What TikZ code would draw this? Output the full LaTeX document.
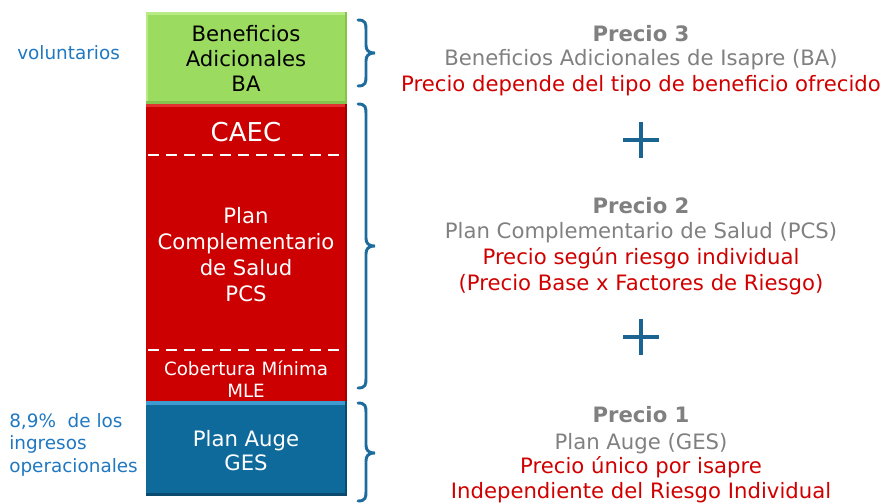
\documentclass[tikz,border=0pt]{standalone}
\usepackage{fontspec}
\setmainfont{DejaVu Sans}
\definecolor{pgray}{HTML}{808080}
\definecolor{pred}{HTML}{D00000}
\definecolor{lblue}{HTML}{1F78C1}
\definecolor{brblue}{HTML}{1E6B9E}
\definecolor{plblue}{HTML}{1A6491}
\definecolor{bagreen}{HTML}{9BDB5F}
\definecolor{bagreenL}{HTML}{B8EA86}
\definecolor{bagreenD}{HTML}{86C24E}
\definecolor{pcsred}{HTML}{CC0000}
\definecolor{pcsredL}{HTML}{E03030}
\definecolor{pcsredD}{HTML}{A00000}
\definecolor{gesblue}{HTML}{0F6A9C}
\definecolor{gesblueL}{HTML}{3F9AD0}
\definecolor{gesblueD}{HTML}{0A4A6E}
\newcommand{\drawbrace}[3]{%
  \draw[bracestyle] (358,#1) .. controls (366,#1) and (366,#1+4) .. (366,#1+10)
    -- (366,#2-8) .. controls (366,#2-3) and (368,#2) .. (375,#2)
    .. controls (368,#2) and (366,#2+3) .. (366,#2+8)
    -- (366,#3-10) .. controls (366,#3-4) and (366,#3) .. (358,#3);}
\tikzset{
  bracestyle/.style={draw=brblue, line width=2.2pt, line cap=round},
  rtxt/.style={anchor=base, inner sep=0pt, font=\fontsize{15.9}{18}\selectfont},
  ptitle/.style={rtxt, text=pgray, font=\fontsize{15.9}{18}\selectfont\bfseries},
  pname/.style={rtxt, text=pgray},
  pdesc/.style={rtxt, text=pred},
  ctxt/.style={anchor=base, inner sep=0pt, font=\fontsize{15.9}{18}\selectfont},
  ltxt/.style={anchor=base west, inner sep=0pt, text=lblue, font=\fontsize{13.8}{16}\selectfont},
  plussign/.style={draw=plblue, line width=3pt},
  dashline/.style={draw=white, line width=2pt, dash pattern=on 8pt off 5.5pt}
}
\begin{document}
\begin{tikzpicture}[x=0.75pt, y=-0.75pt]
\useasboundingbox (0,0) rectangle (884,503);
% ---- column blocks ----
% green BA
\fill[bagreen] (146,12) rectangle (347,104);
\fill[bagreenL] (146,12) rectangle (347,15);
\fill[bagreenL] (146,12) rectangle (148,104);
\fill[bagreenD] (345,12) rectangle (347,104);
\fill[bagreenD] (146,101) rectangle (347,104);
% red PCS
\fill[pcsred] (146,104) rectangle (347,402);
\fill[pcsredL] (146,104) rectangle (347,107);
\fill[pcsredD] (345,104) rectangle (347,402);
% blue GES
\fill[gesblue] (146,401) rectangle (347,496);
\fill[gesblueL] (146,401) rectangle (347,405);
\fill[gesblueD] (345,401) rectangle (347,496);
\fill[gesblueD] (146,493) rectangle (347,496);
% dashed separators
\draw[dashline] (148,155) -- (345,155);
\draw[dashline] (148,350) -- (345,350);
% ---- column texts ----
\node[ctxt] (ba1) at (246,41) {Beneficios};
\node[ctxt] (ba2) at (246,66) {Adicionales};
\node[ctxt] (ba3) at (246,91) {BA};
\node[anchor=base, inner sep=0pt, text=white, font=\fontsize{19.5}{22}\selectfont] (caec) at (246,141) {CAEC};
\node[ctxt, text=white] (pcs1) at (246,223) {Plan};
\node[ctxt, text=white] (pcs2) at (246,249) {Complementario};
\node[ctxt, text=white] (pcs3) at (246,275) {de Salud};
\node[ctxt, text=white] (pcs4) at (246,301) {PCS};
\node[anchor=base, inner sep=0pt, text=white, font=\fontsize{13.7}{16}\selectfont] (mle1) at (246,375) {Cobertura Mínima};
\node[anchor=base, inner sep=0pt, text=white, font=\fontsize{13.7}{16}\selectfont] (mle2) at (246,397) {MLE};
\node[ctxt, text=white] (ges1) at (246,446) {Plan Auge};
\node[ctxt, text=white] (ges2) at (246,470) {GES};
% ---- left texts ----
\node[ltxt] (vol) at (17,60) {voluntarios};
\node[ltxt] (pct1) at (9,427) {8,9\%\ \ de los};
\node[ltxt] (pct2) at (9,449) {ingresos};
\node[ltxt] (pct3) at (9,472) {operacionales};
% ---- braces ----
\drawbrace{20}{53}{86}
\drawbrace{104}{246}{388}
\drawbrace{403}{453}{501}
% ---- right texts ----
\node[ptitle] (p3t) at (641,41) {Precio 3};
\node[pname] (p3n) at (641,65) {Beneficios Adicionales de Isapre (BA)};
\node[pdesc] (p3d) at (641,91) {Precio depende del tipo de beneficio ofrecido};
\node[ptitle] (p2t) at (641,213) {Precio 2};
\node[pname] (p2n) at (641,238) {Plan Complementario de Salud (PCS)};
\node[pdesc] (p2d1) at (641,264) {Precio según riesgo individual};
\node[pdesc] (p2d2) at (641,290) {(Precio Base x Factores de Riesgo)};
\node[ptitle] (p1t) at (641,422) {Precio 1};
\node[pname] (p1n) at (641,449) {Plan Auge (GES)};
\node[pdesc] (p1d1) at (641,473) {Precio único por isapre};
\node[pdesc] (p1d2) at (641,498) {Independiente del Riesgo Individual};
% ---- plus signs ----
\draw[plussign] (623,140) -- (659,140) (641,122) -- (641,158);
\draw[plussign] (623,337) -- (659,337) (641,319) -- (641,355);
\end{tikzpicture}
\end{document}
